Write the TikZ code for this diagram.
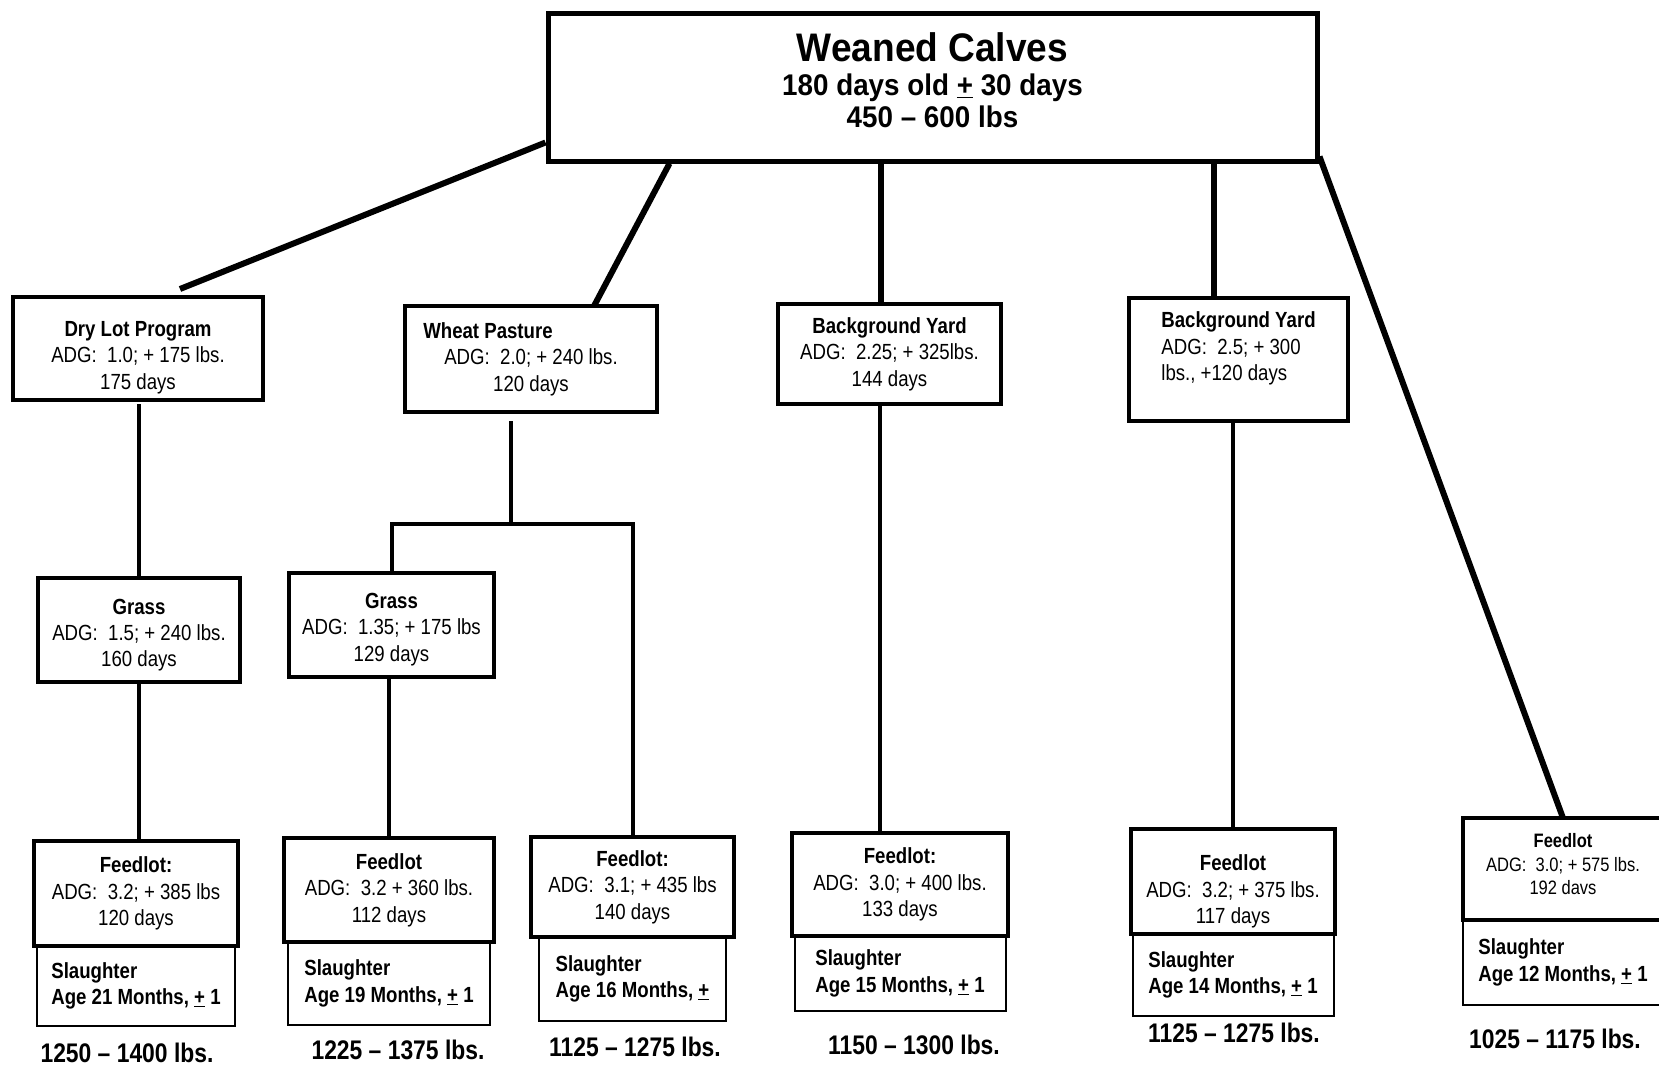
\documentclass[tikz,border=0pt]{standalone}
\usepackage{fontspec}
\setmainfont[FakeStretch=0.85]{Liberation Sans}
\newfontfamily\widefont[FakeStretch=0.93,Ligatures=TeX]{Liberation Sans}
\usepackage{tikz}
\usetikzlibrary{positioning}

\begin{document}
\begin{tikzpicture}[x=1bp,y=-1bp,
  box/.style={draw,line width=3.5bp,inner sep=0pt,outer sep=0pt,align=center,font=\fontsize{22}{26.5}\selectfont},
  feedbox/.style={box,line width=4.5bp},
  slaubox/.style={draw,line width=2bp,inner sep=0pt,outer sep=0pt,align=left,font=\fontsize{22}{26.5}\selectfont\bfseries},
  trunk/.style={line width=6bp},
  branch/.style={line width=4bp},
  weight/.style={font=\fontsize{27}{31}\selectfont\bfseries}]
\useasboundingbox (0,0) rectangle (1659,1066);
\clip (0,0) rectangle (1659,1066);

\node[draw,line width=5bp,inner sep=0pt,minimum width=769bp,minimum height=148bp,align=center,
  font=\widefont\bfseries\fontsize{30}{32}\selectfont] (calves) at (932.5,87)
  {{\fontsize{40}{42}\selectfont Weaned Calves}\\[2bp]180 days old \underline{+} 30 days\\450 -- 600 lbs\\[-18bp]\mbox{}};

% first stage
\node[box,minimum width=250bp,minimum height=103bp] (dry) at (138,348.5)
  {\mbox{}\\[6.5bp]\textbf{Dry Lot Program}\\ADG:~ 1.0; + 175 lbs.\\175 days};
\node[box,minimum width=252bp,minimum height=106bp] (wheat) at (531,359)
  {\textbf{Wheat Pasture}\hspace*{86bp}\\ADG:~ 2.0; + 240 lbs.\\120 days};
\node[box,minimum width=223bp,minimum height=100bp] (yard1) at (889.5,354)
  {\textbf{Background Yard}\\ADG:~ 2.25; + 325lbs.\\144 days};
\node[box,align=left,minimum width=219bp,minimum height=123bp] (yard2) at (1238.5,359.5)
  {\textbf{Background Yard}\\ADG:~ 2.5; + 300\\lbs., +120 days\\\mbox{}};

% grass
\node[box,minimum width=202bp,minimum height=104bp] (grass1) at (139,630)
  {\mbox{}\\[-1bp]\textbf{Grass}\\ADG:~ 1.5; + 240 lbs.\\160 days};
\node[box,minimum width=205bp,minimum height=104bp] (grass2) at (391.5,625)
  {\mbox{}\\[-2bp]\textbf{Grass}\\ADG:~ 1.35; + 175 lbs\\129 days};

% feedlot and slaughter
\node[feedbox,minimum width=204bp,minimum height=105bp] (feed1) at (136,893.5)
  {\textbf{Feedlot:}\\ADG:~ 3.2; + 385 lbs\\120 days};
\node[slaubox,minimum width=198bp,minimum height=80bp,below=0pt of feed1] (slau1)
  {Slaughter\\Age 21 Months, \underline{+} 1};
\node[feedbox,minimum width=210bp,minimum height=104bp] (feed2) at (389,890)
  {\textbf{Feedlot}\\ADG:~ 3.2 + 360 lbs.\\112 days};
\node[slaubox,minimum width=202bp,minimum height=83bp,below=0pt of feed2] (slau2)
  {Slaughter\\Age 19 Months, \underline{+} 1};
\node[feedbox,minimum width=203bp,minimum height=100bp] (feed3) at (632.5,887)
  {\textbf{Feedlot:}\\ADG:~ 3.1; + 435 lbs\\140 days};
\node[slaubox,minimum width=187bp,minimum height=84bp,below=0pt of feed3] (slau3)
  {Slaughter\\Age 16 Months, \underline{+}};
\node[feedbox,minimum width=216bp,minimum height=103bp] (feed4) at (900,884.5)
  {\textbf{Feedlot:}\\ADG:~ 3.0; + 400 lbs.\\133 days};
\node[slaubox,minimum width=211bp,minimum height=75bp,below=0pt of feed4] (slau4)
  {Slaughter\\Age 15 Months, \underline{+} 1};
\node[feedbox,minimum width=204bp,minimum height=105bp] (feed5) at (1233,881.5)
  {\mbox{}\\[9.5bp]\textbf{Feedlot}\\ADG:~ 3.2; + 375 lbs.\\117 days};
\node[slaubox,minimum width=201bp,minimum height=82bp,below=0pt of feed5] (slau5)
  {Slaughter\\Age 14 Months, \underline{+} 1};
\node[feedbox,font=\fontsize{19.5}{23.5}\selectfont,minimum width=200bp,minimum height=102bp] (feed6) at (1563,869)
  {\textbf{Feedlot}\\ADG:~ 3.0; + 575 lbs.\\192 davs\\[-14bp]\mbox{}};
\node[slaubox,minimum width=200bp,minimum height=85bp,below=0pt of feed6] (slau6)
  {Slaughter\\Age 12 Months, \underline{+} 1};

\node[weight] (w1) at (127,1053) {1250 -- 1400 lbs.};
\node[weight] (w2) at (398,1050) {1225 -- 1375 lbs.};
\node[weight] (w3) at (635,1047) {1125 -- 1275 lbs.};
\node[weight] (w4) at (914,1045) {1150 -- 1300 lbs.};
\node[weight] (w5) at (1234,1033) {1125 -- 1275 lbs.};
\node[weight] (w6) at (1555,1039) {1025 -- 1175 lbs.};

% connectors
\coordinate (split) at (511,524);
\draw[trunk] ([yshift=21bp]calves.south west) -- ([xshift=42bp,yshift=8bp]dry.north);
\draw[trunk] ([xshift=124bp]calves.south west) -- ([xshift=63bp]wheat.north);
\draw[trunk] ([xshift=-9bp]yard1.north |- calves.south) -- ([xshift=-9bp]yard1.north);
\draw[trunk] ([xshift=-24.5bp]yard2.north |- calves.south) -- ([xshift=-24.5bp]yard2.north);
\draw[trunk] ([yshift=7bp]calves.south east) -- (feed6.north);
\draw[branch] ([yshift=-4bp]grass1.north |- dry.south) -- (grass1.north);
\draw[branch] (grass1.south) -- (grass1.south |- feed1.north);
\draw[branch] ([yshift=-9bp]split |- wheat.south) -- (split);
\draw[branch] (grass2.north) |- (split) -| (feed3.north);
\draw[branch] (feed2.north |- grass2.south) -- (feed2.north);
\draw[branch] ([xshift=-9.5bp]yard1.south) -- ([xshift=-9.5bp]yard1.south |- feed4.north);
\draw[branch] (feed5.north |- yard2.south) -- (feed5.north);
\end{tikzpicture}
\end{document}
